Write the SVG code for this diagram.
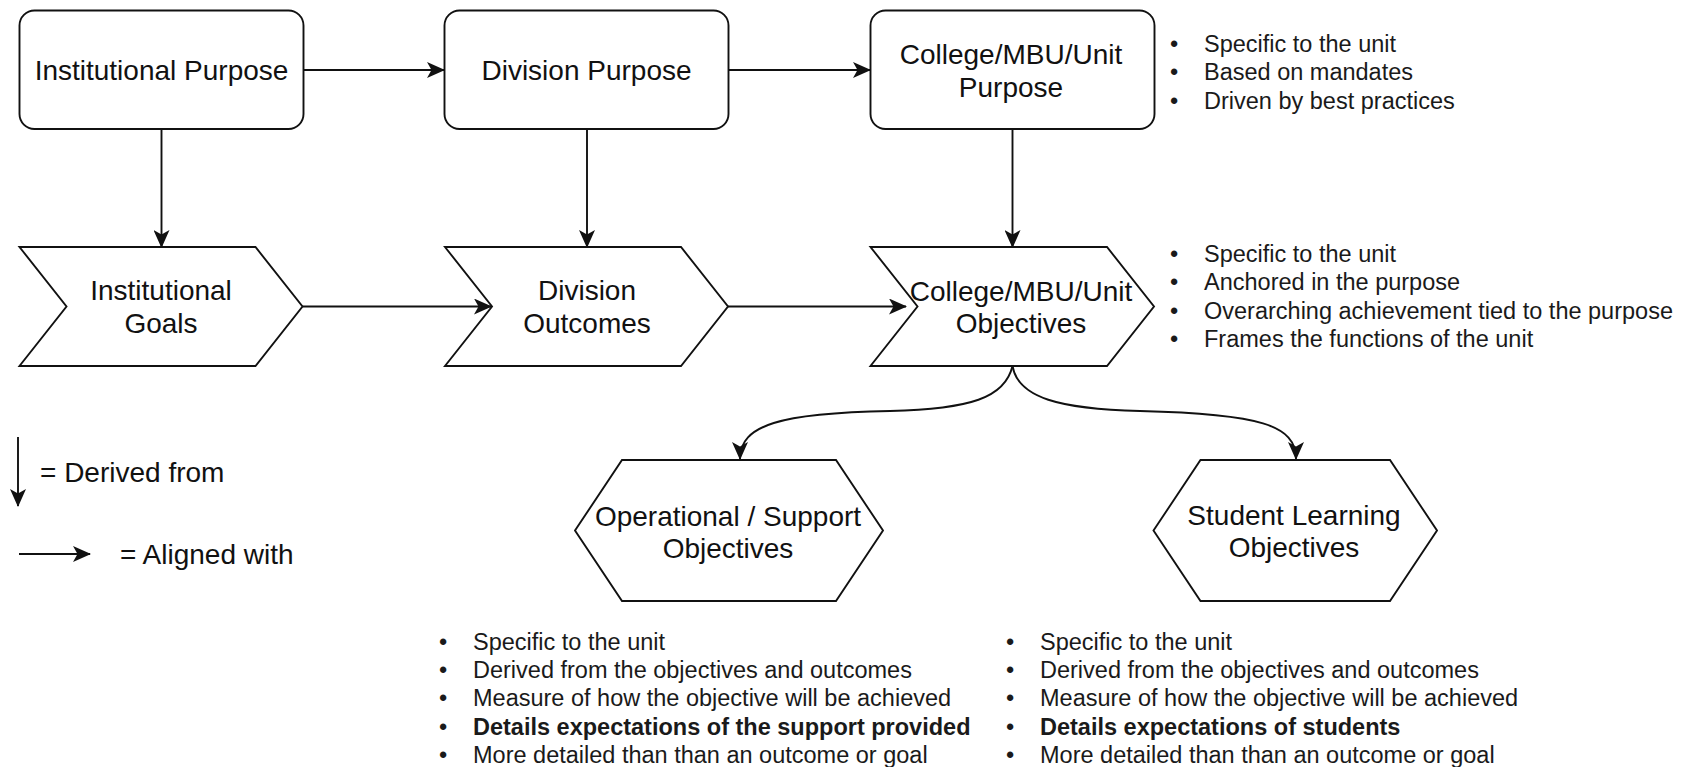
<svg xmlns="http://www.w3.org/2000/svg" width="1681" height="767" viewBox="0 0 1681 767">
<style>
.shape{fill:#fff;stroke:#111;stroke-width:1.9}
.lbl{font-family:"Liberation Sans",Arial,sans-serif;font-size:28px;fill:#111;text-anchor:middle}
.leg{font-family:"Liberation Sans",Arial,sans-serif;font-size:28px;fill:#111}
.bl{font-family:"Liberation Sans",Arial,sans-serif;font-size:23.5px;fill:#1a1a1a}
.b{font-weight:bold}
.edge{fill:none;stroke:#111;stroke-width:1.9}
</style>
<defs>
<marker id="arr" viewBox="0 0 18 16" refX="17" refY="8" markerWidth="18" markerHeight="16" markerUnits="userSpaceOnUse" orient="auto">
<path d="M0,0 L18,8 L0,16 L4.5,8 z" fill="#111"/>
</marker>
</defs>
<rect width="1681" height="767" fill="#fff"/>

<g id="connectors">
<line class="edge" x1="303.5" y1="70" x2="444" y2="70" marker-end="url(#arr)"/>
<line class="edge" x1="728.5" y1="70" x2="870" y2="70" marker-end="url(#arr)"/>
<line class="edge" x1="161.5" y1="129" x2="161.5" y2="247" marker-end="url(#arr)"/>
<line class="edge" x1="587" y1="129" x2="587" y2="247" marker-end="url(#arr)"/>
<line class="edge" x1="1012.5" y1="129" x2="1012.5" y2="247" marker-end="url(#arr)"/>
<line class="edge" x1="302.5" y1="306.5" x2="491" y2="306.5" marker-end="url(#arr)"/>
<line class="edge" x1="728" y1="306.5" x2="906" y2="306.5" marker-end="url(#arr)"/>
<path class="edge" d="M1012.5,366 C1005,398 970,409 890,411 C780,413 740,425 740,459" marker-end="url(#arr)"/>
<path class="edge" d="M1012.5,366 C1018,398 1060,409 1140,411 C1260,414 1296,425 1296,459" marker-end="url(#arr)"/>
<line class="edge" x1="18" y1="437" x2="18" y2="506" marker-end="url(#arr)"/>
<line class="edge" x1="19" y1="554" x2="90" y2="554" marker-end="url(#arr)"/>
</g>

<g id="inst-purpose">
<rect class="shape" x="19.5" y="10.5" width="284" height="118.5" rx="15" ry="15"/>
<text class="lbl" x="161.5" y="80">Institutional Purpose</text>
</g>
<g id="div-purpose">
<rect class="shape" x="444.5" y="10.5" width="284" height="118.5" rx="15" ry="15"/>
<text class="lbl" x="586.5" y="80">Division Purpose</text>
</g>
<g id="college-purpose">
<rect class="shape" x="870.5" y="10.5" width="284" height="118.5" rx="15" ry="15"/>
<text class="lbl" x="1011" y="64">College/MBU/Unit</text>
<text class="lbl" x="1011" y="97">Purpose</text>
</g>

<g id="inst-goals">
<polygon class="shape" points="19.5,247 255.5,247 302.5,306.5 255.5,366 19.5,366 66.5,306.5"/>
<text class="lbl" x="161" y="300">Institutional</text>
<text class="lbl" x="161" y="333">Goals</text>
</g>
<g id="div-outcomes">
<polygon class="shape" points="445,247 681,247 728,306.5 681,366 445,366 492,306.5"/>
<text class="lbl" x="587" y="300">Division</text>
<text class="lbl" x="587" y="333">Outcomes</text>
</g>
<g id="college-objectives">
<polygon class="shape" points="870.5,247 1107,247 1154,306.5 1107,366 870.5,366 917.5,306.5"/>
<text class="lbl" x="1021" y="301">College/MBU/Unit</text>
<text class="lbl" x="1021" y="333">Objectives</text>
</g>

<g id="operational">
<polygon class="shape" points="575,530.5 622,460 836,460 883,530.5 836,601 622,601"/>
<text class="lbl" x="728" y="526">Operational / Support</text>
<text class="lbl" x="728" y="558">Objectives</text>
</g>
<g id="student">
<polygon class="shape" points="1153.5,530.5 1200.5,460 1390,460 1437,530.5 1390,601 1200.5,601"/>
<text class="lbl" x="1294" y="525">Student Learning</text>
<text class="lbl" x="1294" y="557">Objectives</text>
</g>

<g id="legend">
<text class="leg" x="40" y="482">= Derived from</text>
<text class="leg" x="120" y="564">= Aligned with</text>
</g>

<g id="purpose-notes" class="bl">
<text x="1170" y="52">•</text><text x="1204" y="52">Specific to the unit</text>
<text x="1170" y="80">•</text><text x="1204" y="80">Based on mandates</text>
<text x="1170" y="108.5">•</text><text x="1204" y="108.5">Driven by best practices</text>
</g>
<g id="objective-notes" class="bl">
<text x="1170" y="262">•</text><text x="1204" y="262">Specific to the unit</text>
<text x="1170" y="290">•</text><text x="1204" y="290">Anchored in the purpose</text>
<text x="1170" y="318.5">•</text><text x="1204" y="318.5">Overarching achievement tied to the purpose</text>
<text x="1170" y="347">•</text><text x="1204" y="347">Frames the functions of the unit</text>
</g>
<g id="operational-notes" class="bl">
<text x="439" y="649.5">•</text><text x="473" y="649.5">Specific to the unit</text>
<text x="439" y="678">•</text><text x="473" y="678">Derived from the objectives and outcomes</text>
<text x="439" y="706">•</text><text x="473" y="706">Measure of how the objective will be achieved</text>
<text x="439" y="734.5">•</text><text x="473" y="734.5" class="b">Details expectations of the support provided</text>
<text x="439" y="763">•</text><text x="473" y="763">More detailed than than an outcome or goal</text>
</g>
<g id="student-notes" class="bl">
<text x="1006" y="649.5">•</text><text x="1040" y="649.5">Specific to the unit</text>
<text x="1006" y="678">•</text><text x="1040" y="678">Derived from the objectives and outcomes</text>
<text x="1006" y="706">•</text><text x="1040" y="706">Measure of how the objective will be achieved</text>
<text x="1006" y="734.5">•</text><text x="1040" y="734.5" class="b">Details expectations of students</text>
<text x="1006" y="763">•</text><text x="1040" y="763">More detailed than than an outcome or goal</text>
</g>
</svg>
